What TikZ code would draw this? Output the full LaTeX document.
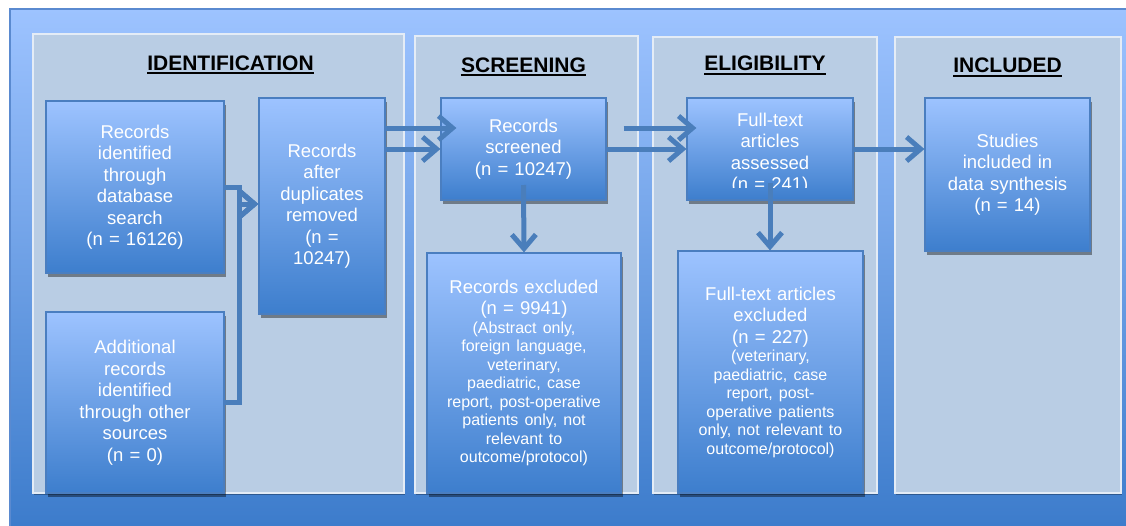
\documentclass[tikz,border=0pt]{standalone}
\usepackage{fontspec}
\setmainfont{Liberation Sans}
\usetikzlibrary{arrows.meta,shadows,calc}
\definecolor{bgtop}{HTML}{9DC3FF}
\definecolor{bgbot}{HTML}{3A7ACA}
\definecolor{bgedge}{HTML}{5A8AD0}
\definecolor{panelc}{HTML}{B9CDE4}
\definecolor{panedge}{HTML}{E4ECF6}
\definecolor{boxtop}{HTML}{9DC3FF}
\definecolor{boxbot}{HTML}{3D7ECD}
\definecolor{boxedge}{HTML}{4A7EC0}
\definecolor{arrowc}{HTML}{4A7EBB}
\tikzset{
  panelbox/.style={fill=panelc, draw=panedge, line width=1.2pt, inner sep=0,
    drop shadow={shadow xshift=1pt, shadow yshift=-2pt, opacity=0.3, fill=black}},
  flowbox/.style={draw=boxedge, line width=1.2pt, top color=boxtop, bottom color=boxbot,
    inner sep=0, text=white, align=center,
    font=\fontsize{18.5}{21.5}\selectfont,
    drop shadow={shadow xshift=2pt, shadow yshift=-4pt, opacity=0.4, fill=black}},
  boxtext/.style={inner sep=0, text=white, align=center, font=\fontsize{18.5}{21.5}\selectfont},
  title/.style={inner sep=0, anchor=base, font=\bfseries\fontsize{21}{25}\selectfont},
  uline/.style={line width=2pt, black},
  flow/.style={draw=arrowc, line width=5pt, -{Straight Barb[length=14pt, width=24pt]}},
}
\newcommand{\smalltxt}{\fontsize{16}{18.5}\selectfont}
\begin{document}
\begin{tikzpicture}[x=1pt,y=-1pt]
\useasboundingbox (0,0) rectangle (1126,525);
\fill[white] (0,0) rectangle (1126,525);
% outer background
\begin{scope}
\clip (0,0) rectangle (1126,525);
\path[top color=bgtop, bottom color=bgbot, draw=bgedge, line width=1.5pt] (10,9) rectangle (1140,540);
\end{scope}
% panels
\node[panelbox, minimum width=371pt, minimum height=459pt] (p1) at (218.5,263.5) {};
\node[panelbox, minimum width=223pt, minimum height=457pt] (p2) at (526.5,264.5) {};
\node[panelbox, minimum width=224pt, minimum height=456pt] (p3) at (765,265) {};
\node[panelbox, minimum width=226pt, minimum height=456pt] (p4) at (1008,265) {};
% titles
\node[title] (t1) at (230.5,70) {IDENTIFICATION};
\node[title] (t2) at (523.5,72) {SCREENING};
\node[title] (t3) at (765,70.5) {ELIGIBILITY};
\node[title] (t4) at (1007.5,72.5) {INCLUDED};
\foreach \t in {t1,t2,t3,t4}
  \draw[uline] ([yshift=-3.4pt]\t.base west) -- ([yshift=-3.4pt]\t.base east);
% boxes
\node[flowbox, minimum width=178pt, minimum height=172pt, text width=170pt] (a) at (135,187)
  {Records\\identified\\through\\database\\search\\(n = 16126)};
\node[flowbox, minimum width=126pt, minimum height=216pt, text width=120pt] (b) at (322,206)
  {Records\\after\\duplicates\\removed\\(n =\\10247)};
\node[flowbox, minimum width=178pt, minimum height=181pt, text width=170pt] (c) at (135,402.5)
  {Additional\\records\\identified\\through other\\sources\\(n = 0)};
\node[flowbox, minimum width=165pt, minimum height=102pt, text width=158pt] (d) at (523.5,149)
  {Records\\screened\\(n = 10247)};
\node[flowbox, minimum width=166pt, minimum height=102pt] (e) at (770,149) {};
\begin{scope}
\clip (687,98) rectangle (853,187.5);
\node[boxtext, text width=160pt] (etext) at (770,153.5)
  {Full-text\\articles\\assessed\\(n = 241)};
\end{scope}
\node[flowbox, minimum width=165pt, minimum height=153pt, text width=158pt] (f) at (1007.5,174.5)
  {Studies\\included in\\data synthesis\\(n = 14)};
\node[flowbox, minimum width=194pt, minimum height=240pt, text width=188pt] (g) at (524,373)
  {Records excluded\\(n = 9941)\par\smalltxt (Abstract only,\\foreign language,\\veterinary,\\paediatric, case\\report, post-operative\\patients only, not\\relevant to\\outcome/protocol)\par};
\node[flowbox, minimum width=185pt, minimum height=242pt, text width=179pt] (h) at (770.5,372)
  {Full-text articles\\excluded\\(n = 227)\par\smalltxt (veterinary,\\paediatric, case\\report, post-\\operative patients\\only, not relevant to\\outcome/protocol)\par};
% connectors
\coordinate (j) at (239,204);
\coordinate (r1) at (0,128);
\draw[flow] (a.east) -| (j) -- (b.west |- j);
\draw[flow] (c.east) -| (j) -- (b.west |- j);
\draw[flow] (b.east |- r1) -- ([xshift=16pt]d.west |- r1);
\draw[flow] (b.east |- d.west) -- (d.west);
\draw[flow] ([xshift=17pt]d.east |- r1) -- ([xshift=10pt]e.west |- r1);
\draw[flow] (d.east) -- (e.west);
\draw[flow] (e.east) -- (f.west |- e.east);
\draw[flow] ($(d.center)+(0,36)$) -- (g.north);
\draw[flow] ($(e.center)+(0,34)$) -- (h.north -| e.center);
\end{tikzpicture}
\end{document}
